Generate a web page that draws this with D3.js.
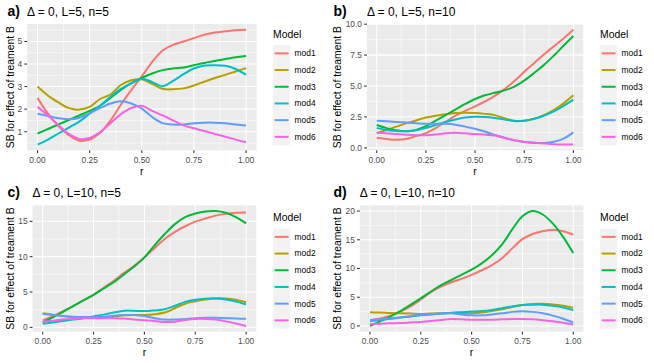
<!DOCTYPE html>
<html><head><meta charset="utf-8">
<script src="https://cdn.jsdelivr.net/npm/d3@7"></script>
<style>body{margin:0;background:#fff}svg{display:block}text{font-family:"Liberation Sans",Arial,Helvetica,sans-serif}</style>
</head><body><svg id="chart" width="654" height="363"></svg>
<script>
// ---------- data ----------
const rValues = [0,0.05,0.1,0.15,0.2,0.25,0.3,0.35,0.4,0.45,0.5,0.55,0.6,0.65,0.7,0.75,0.8,0.85,0.9,0.95,1];
const models = ["mod1","mod2","mod3","mod4","mod5","mod6"];
const modelColors = ["#F8766D","#B79F00","#00BA38","#00BFC4","#619CFF","#F564E3"];
const xTicks = [0,0.25,0.5,0.75,1];
const xTickLabels = ["0.00","0.25","0.50","0.75","1.00"];
const xMinor = [0.125,0.375,0.625,0.875];
const panelLabels = ["a)","b)","c)","d)"];
const panelTitles = ["\u0394 = 0, L=5, n=5","\u0394 = 0, L=5, n=10","\u0394 = 0, L=10, n=5","\u0394 = 0, L=10, n=10"];
const yTicksA = [1,2,3,4,5];
const yTickLabelsA = ["1","2","3","4","5"];
const yTicksB = [0,2.5,5,7.5,10];
const yTickLabelsB = ["0.0","2.5","5.0","7.5","10.0"];
const yTicksC = [0,5,10,15];
const yTickLabelsC = ["0","5","10","15"];
const yTicksD = [0,5,10,15,20];
const yTickLabelsD = ["0","5","10","15","20"];
const xTitle = "r";
const yTitle = "SB for effect of treament B";
const legendTitle = "Model";

// panel a: delta=0, L=5, n=5
const a_mod1 = [2.5,1.8,1.25,0.85,0.6,0.65,0.95,1.5,2.2,2.85,3.45,4.1,4.6,4.85,5.0,5.15,5.3,5.4,5.45,5.5,5.52];
const a_mod2 = [3.0,2.6,2.3,2.05,1.98,2.1,2.45,2.65,3.07,3.28,3.32,3.12,2.9,2.88,2.92,3.05,3.22,3.38,3.52,3.67,3.82];
const a_mod3 = [0.92,1.12,1.32,1.52,1.72,1.92,2.15,2.5,2.85,3.15,3.38,3.58,3.73,3.8,3.85,3.95,4.05,4.13,4.22,4.3,4.36];
const a_mod4 = [0.43,0.65,0.92,1.18,1.45,1.8,2.15,2.55,2.9,3.15,3.35,3.2,3.02,3.25,3.55,3.8,3.93,3.95,3.92,3.78,3.52];
const a_mod5 = [1.8,1.7,1.6,1.55,1.62,1.82,2.05,2.25,2.35,2.25,2.02,1.65,1.38,1.32,1.32,1.37,1.4,1.4,1.37,1.32,1.28];
const a_mod6 = [2.1,1.72,1.3,0.9,0.68,0.72,0.98,1.38,1.78,2.05,2.15,1.92,1.72,1.5,1.28,1.15,1.03,0.9,0.78,0.65,0.53];
// panel b: delta=0, L=5, n=10
const b_mod1 = [0.82,0.72,0.66,0.72,0.95,1.2,1.6,2.1,2.6,3.0,3.35,3.75,4.2,4.75,5.4,6.15,6.85,7.55,8.2,8.85,9.55];
const b_mod2 = [1.2,1.45,1.72,1.98,2.22,2.45,2.6,2.72,2.82,2.85,2.82,2.75,2.65,2.4,2.2,2.2,2.35,2.65,3.05,3.6,4.25];
const b_mod3 = [1.85,1.6,1.42,1.35,1.45,1.75,2.2,2.65,3.1,3.55,3.95,4.25,4.45,4.65,4.95,5.45,6.05,6.7,7.45,8.25,9.05];
const b_mod4 = [1.62,1.45,1.36,1.34,1.42,1.6,1.85,2.1,2.3,2.45,2.52,2.5,2.42,2.3,2.17,2.2,2.35,2.6,2.95,3.4,3.9];
const b_mod5 = [2.2,2.15,2.1,2.05,2.0,1.95,1.95,1.95,1.88,1.72,1.55,1.32,1.05,0.82,0.62,0.48,0.4,0.4,0.5,0.75,1.25];
const b_mod6 = [1.22,1.18,1.12,1.07,1.03,1.02,1.08,1.18,1.22,1.18,1.12,1.08,1.0,0.8,0.62,0.5,0.43,0.36,0.3,0.27,0.27];
// panel c: delta=0, L=10, n=5
const c_mod1 = [1.0,1.6,2.3,3.0,3.8,4.6,5.6,6.6,7.7,8.7,9.9,11.2,12.5,13.5,14.3,14.95,15.4,15.8,16.05,16.2,16.25];
const c_mod2 = [2.0,1.8,1.6,1.45,1.4,1.4,1.45,1.55,1.7,1.75,1.75,1.85,2.1,2.7,3.35,3.7,3.95,4.1,4.08,3.9,3.55];
const c_mod3 = [0.7,1.4,2.2,3.0,3.8,4.6,5.5,6.4,7.5,8.6,9.9,11.6,13.2,14.6,15.6,16.1,16.4,16.45,16.2,15.6,14.7];
const c_mod4 = [0.5,0.7,0.9,1.1,1.3,1.55,1.8,2.1,2.35,2.35,2.3,2.4,2.55,3.05,3.6,3.9,4.05,4.1,3.95,3.65,3.25];
const c_mod5 = [1.9,1.75,1.6,1.5,1.45,1.45,1.5,1.65,1.75,1.75,1.6,1.3,1.1,1.1,1.2,1.3,1.35,1.35,1.3,1.25,1.22];
const c_mod6 = [0.8,0.95,1.1,1.2,1.3,1.3,1.3,1.3,1.25,1.1,1.0,0.9,0.75,0.8,1.05,1.2,1.2,1.1,0.85,0.55,0.2];
// panel d: delta=0, L=10, n=10
const d_mod1 = [1.0,1.3,1.8,2.5,3.4,4.6,5.9,6.85,7.6,8.2,8.9,9.7,10.6,11.8,13.5,15.1,16.0,16.5,16.7,16.5,15.9];
const d_mod2 = [2.4,2.35,2.25,2.2,2.15,2.1,2.15,2.2,2.25,2.2,2.2,2.35,2.6,2.9,3.3,3.65,3.8,3.85,3.75,3.5,3.15];
const d_mod3 = [0.0,0.8,1.6,2.6,3.7,4.8,6.0,7.1,8.0,8.9,9.8,10.9,12.3,14.2,16.8,19.1,20.0,19.4,17.8,15.5,12.7];
const d_mod4 = [0.85,1.05,1.25,1.45,1.65,1.85,2.0,2.15,2.3,2.4,2.5,2.6,2.8,3.1,3.4,3.65,3.7,3.7,3.5,3.2,2.75];
const d_mod5 = [1.0,1.15,1.3,1.5,1.7,1.9,2.05,2.15,2.2,2.0,1.85,1.85,2.0,2.2,2.45,2.55,2.45,2.2,1.8,1.25,0.6];
const d_mod6 = [0.35,0.4,0.45,0.5,0.6,0.7,0.85,1.05,1.2,1.15,1.1,1.1,1.1,1.15,1.2,1.2,1.15,1.0,0.8,0.55,0.25];

// ---------- layout ----------
const panels = [
  {series:[a_mod1,a_mod2,a_mod3,a_mod4,a_mod5,a_mod6], yTicks:yTicksA, yLabels:yTickLabelsA,
   left:27.1, right:256.5, top:24, bottom:150.3, labelX:7.5, titleY:15.5, yTitleX:13.5, legX:273, legY:37.5},
  {series:[b_mod1,b_mod2,b_mod3,b_mod4,b_mod5,b_mod6], yTicks:yTicksB, yLabels:yTickLabelsB,
   left:366.9, right:583.2, top:24, bottom:150.3, labelX:333.5, titleY:15.5, yTitleX:340.5, legX:600, legY:37.5},
  {series:[c_mod1,c_mod2,c_mod3,c_mod4,c_mod5,c_mod6], yTicks:yTicksC, yLabels:yTickLabelsC,
   left:32.5, right:256.3, top:205.3, bottom:331.7, labelX:7.5, titleY:196.5, yTitleX:13.5, legX:273, legY:221},
  {series:[d_mod1,d_mod2,d_mod3,d_mod4,d_mod5,d_mod6], yTicks:yTicksD, yLabels:yTickLabelsD,
   left:359.8, right:583.4, top:205.3, bottom:331.7, labelX:333.5, titleY:196.5, yTitleX:340.5, legX:600, legY:221}
];

const svg = d3.select("#chart");
const axisCol = "#4D4D4D";

panels.forEach((p, pi) => {
  const g = svg.append("g");
  // y domain: data range with 5% expansion
  const all = p.series.flat();
  const mn = d3.min(all), mx = d3.max(all), pad = (mx - mn) * 0.05;
  const y = d3.scaleLinear().domain([mn - pad, mx + pad]).range([p.bottom, p.top]);
  const x = d3.scaleLinear().domain([-0.05, 1.05]).range([p.left, p.right]);

  g.append("rect").attr("x", p.left).attr("y", p.top)
    .attr("width", p.right - p.left).attr("height", p.bottom - p.top).attr("fill", "#EBEBEB");

  // minor grid
  const step = p.yTicks[1] - p.yTicks[0];
  const yMinor = [];
  for (let i = -1; i < p.yTicks.length; i++) {
    const v = p.yTicks[0] + step * (i + 0.5);
    if (v > y.domain()[0] && v < y.domain()[1]) yMinor.push(v);
  }
  g.selectAll(".ym").data(yMinor).enter().append("line")
    .attr("x1", p.left).attr("x2", p.right).attr("y1", d => y(d)).attr("y2", d => y(d))
    .attr("stroke", "#fff").attr("stroke-width", 0.53);
  g.selectAll(".xm").data(xMinor).enter().append("line")
    .attr("y1", p.top).attr("y2", p.bottom).attr("x1", d => x(d)).attr("x2", d => x(d))
    .attr("stroke", "#fff").attr("stroke-width", 0.53);
  // major grid
  g.selectAll(".yM").data(p.yTicks).enter().append("line")
    .attr("x1", p.left).attr("x2", p.right).attr("y1", d => y(d)).attr("y2", d => y(d))
    .attr("stroke", "#fff").attr("stroke-width", 1.07);
  g.selectAll(".xM").data(xTicks).enter().append("line")
    .attr("y1", p.top).attr("y2", p.bottom).attr("x1", d => x(d)).attr("x2", d => x(d))
    .attr("stroke", "#fff").attr("stroke-width", 1.07);

  // clip
  const cid = "clip" + pi;
  svg.append("clipPath").attr("id", cid).append("rect")
    .attr("x", p.left).attr("y", p.top).attr("width", p.right - p.left).attr("height", p.bottom - p.top);

  const line = d3.line().x((d, i) => x(rValues[i])).y(d => y(d)).curve(d3.curveCatmullRom.alpha(0.5));
  const lg = g.append("g").attr("clip-path", `url(#${cid})`);
  p.series.forEach((s, si) => {
    lg.append("path").attr("d", line(s)).attr("fill", "none")
      .attr("stroke", modelColors[si]).attr("stroke-width", 2).attr("stroke-linejoin", "round").attr("stroke-linecap", "butt");
  });

  // axes ticks
  g.selectAll(".yt").data(p.yTicks).enter().append("line")
    .attr("x1", p.left - 2.75).attr("x2", p.left).attr("y1", d => y(d)).attr("y2", d => y(d))
    .attr("stroke", "#333").attr("stroke-width", 1.07);
  g.selectAll(".ytl").data(p.yTicks).enter().append("text")
    .attr("x", p.left - 4.9).attr("y", d => y(d)).attr("dy", "0.35em")
    .attr("text-anchor", "end").attr("font-size", 8.4).attr("fill", axisCol)
    .text((d, i) => p.yLabels[i]);
  g.selectAll(".xt").data(xTicks).enter().append("line")
    .attr("y1", p.bottom).attr("y2", p.bottom + 2.75).attr("x1", d => x(d)).attr("x2", d => x(d))
    .attr("stroke", "#333").attr("stroke-width", 1.07);
  g.selectAll(".xtl").data(xTicks).enter().append("text")
    .attr("x", d => x(d)).attr("y", p.bottom + 12.5)
    .attr("text-anchor", "middle").attr("font-size", 8.4).attr("fill", axisCol)
    .text((d, i) => xTickLabels[i]);

  // axis titles
  g.append("text").attr("x", (p.left + p.right) / 2).attr("y", p.bottom + 24.5)
    .attr("text-anchor", "middle").attr("font-size", 10.4).attr("fill", "#000").text(xTitle);
  g.append("text").attr("transform", `translate(${p.yTitleX},${(p.top + p.bottom) / 2}) rotate(-90)`)
    .attr("text-anchor", "middle").attr("font-size", 10.4).attr("fill", "#000").text(yTitle);

  // panel label and title
  g.append("text").attr("x", p.labelX).attr("y", p.titleY + 0.5).attr("font-size", 14)
    .attr("font-weight", "bold").attr("fill", "#000").text(panelLabels[pi]);
  g.append("text").attr("x", p.left).attr("y", p.titleY).attr("font-size", 12)
    .attr("fill", "#000").text(panelTitles[pi]);

  // legend
  const leg = g.append("g");
  leg.append("text").attr("x", p.legX).attr("y", p.legY).attr("font-size", 10.4).attr("fill", "#000").text(legendTitle);
  const keyH = 16.7, keyW = 17.3, keyTop = p.legY + 7.5;
  models.forEach((m, i) => {
    const ky = keyTop + i * keyH;
    leg.append("rect").attr("x", p.legX).attr("y", ky).attr("width", keyW).attr("height", keyH).attr("fill", "#F2F2F2");
    leg.append("line").attr("x1", p.legX + 1.7).attr("x2", p.legX + keyW - 1.7)
      .attr("y1", ky + keyH / 2).attr("y2", ky + keyH / 2)
      .attr("stroke", modelColors[i]).attr("stroke-width", 2);
    leg.append("text").attr("x", p.legX + keyW + 4.3).attr("y", ky + keyH / 2).attr("dy", "0.35em")
      .attr("font-size", 8.4).attr("fill", "#000").text(m);
  });
});
</script></body></html>
